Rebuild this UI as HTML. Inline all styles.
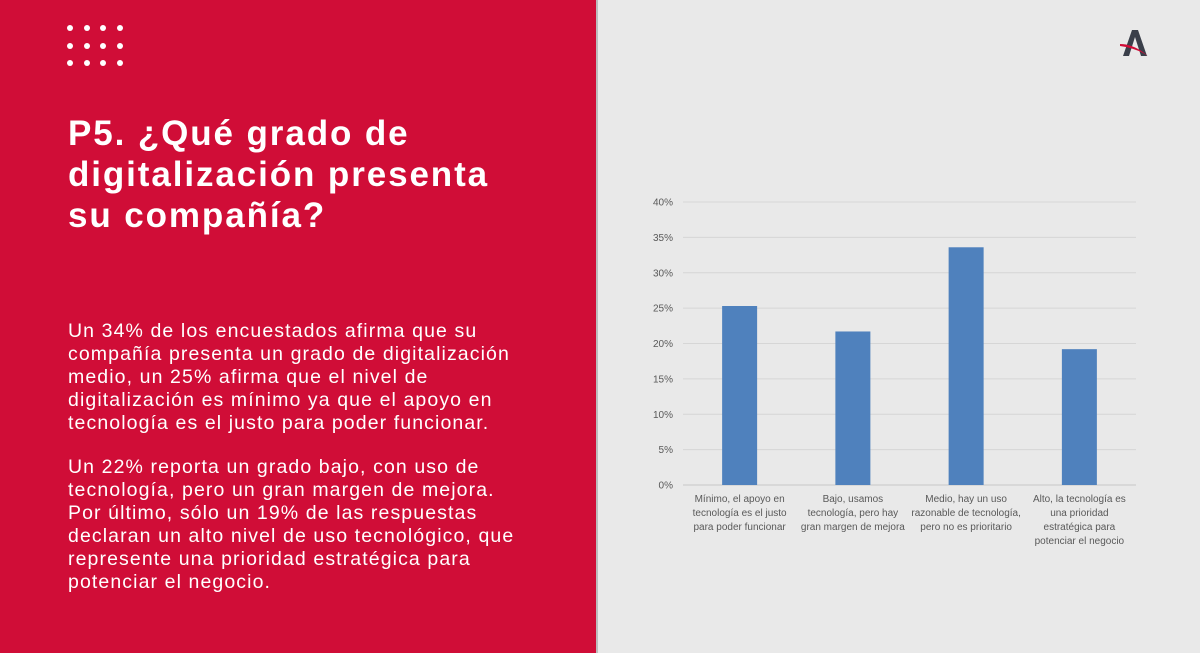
<!DOCTYPE html>
<html><head><meta charset="utf-8"><style>
body{margin:0;width:1200px;height:653px;overflow:hidden;background:#e9e9e9;font-family:"Liberation Sans",sans-serif;position:relative}
#left{position:absolute;left:0;top:0;width:596px;height:653px;background:#d00d37;border-right:2px solid #bdbdbd}
.dot{position:absolute;width:6px;height:6px;border-radius:50%;background:#fff}
h1{position:absolute;left:68px;top:113px;margin:0;color:#fff;font-size:35px;letter-spacing:1.9px;line-height:41px;font-weight:bold;width:528px;white-space:nowrap}
.p{position:absolute;left:68px;color:#fff;font-size:19.5px;letter-spacing:1.1px;line-height:23px;width:528px;margin:0;white-space:nowrap}
</style></head><body>
<div id="left">
<div id="dots"></div>
<h1>P5. ¿Qué grado de<br>digitalización presenta<br>su compañía?</h1>
<p class="p" style="top:320px">Un 34% de los encuestados afirma que su<br>compañía presenta un grado de digitalización<br>medio, un 25% afirma que el nivel de<br>digitalización es mínimo ya que el apoyo en<br>tecnología es el justo para poder funcionar.</p>
<p class="p" style="top:456px">Un 22% reporta un grado bajo, con uso de<br>tecnología, pero un gran margen de mejora.<br>Por último, sólo un 19% de las respuestas<br>declaran un alto nivel de uso tecnológico, que<br>represente una prioridad estratégica para<br>potenciar el negocio.</p>
</div>
<svg style="position:absolute;left:1118px;top:28px" width="34" height="32">
<polygon points="5,28 14,2 20,2 29,28 23,28 17,9 11,28" fill="#3a3f4a"/>
<path d="M2,16 Q16,16 30,28 Q18,20 2,18 Z" fill="#d00d37"/>
</svg>
<svg id="chart" style="position:absolute;left:0;top:0" width="1200" height="653"></svg>
<script>
const categories=[["Mínimo, el apoyo en","tecnología es el justo","para poder funcionar"],["Bajo, usamos","tecnología, pero hay","gran margen de mejora"],["Medio, hay un uso","razonable de tecnología,","pero no es prioritario"],["Alto, la tecnología es","una prioridad","estratégica para","potenciar el negocio"]];
const values=[25.3,21.7,33.6,19.2];
const ticks=[0,5,10,15,20,25,30,35,40];
const d=document.getElementById('dots');
for(let r=0;r<3;r++)for(let c=0;c<4;c++){const e=document.createElement('div');e.className='dot';e.style.left=(67+c*16.5)+'px';e.style.top=(25+r*17.5)+'px';

d.appendChild(e);}
const ns='http://www.w3.org/2000/svg',svg=document.getElementById('chart');
const x0=683,x1=1136,y0=485,y40=202;
const y=v=>y0-(v/40)*(y0-y40);
const bw=(x1-x0)/categories.length;
function mk(t,a,txt){const e=document.createElementNS(ns,t);for(const k in a)e.setAttribute(k,a[k]);if(txt!=null)e.textContent=txt;svg.appendChild(e);return e;}
ticks.forEach(t=>{const l=mk('line',{x1:x0,x2:x1,y1:y(t),y2:y(t),stroke:t===0?'#c8c8c8':'#d6d6d6','stroke-width':1});


const tx=mk('text',{x:673,y:y(t)+3.5,'text-anchor':'end','font-size':10,fill:'#595959','font-family':'Liberation Sans'},t+'%');

});
values.forEach((v,i)=>{const cx=x0+bw*(i+0.5);
const b=mk('rect',{x:cx-17.5,y:y(v),width:35,height:y0-y(v),fill:'#4f81bd'});


categories[i].forEach((ln,j)=>{const t=mk('text',{x:cx,y:502+j*14,'text-anchor':'middle','font-size':10,fill:'#595959','font-family':'Liberation Sans'},ln);

});});
</script>
</body></html>
